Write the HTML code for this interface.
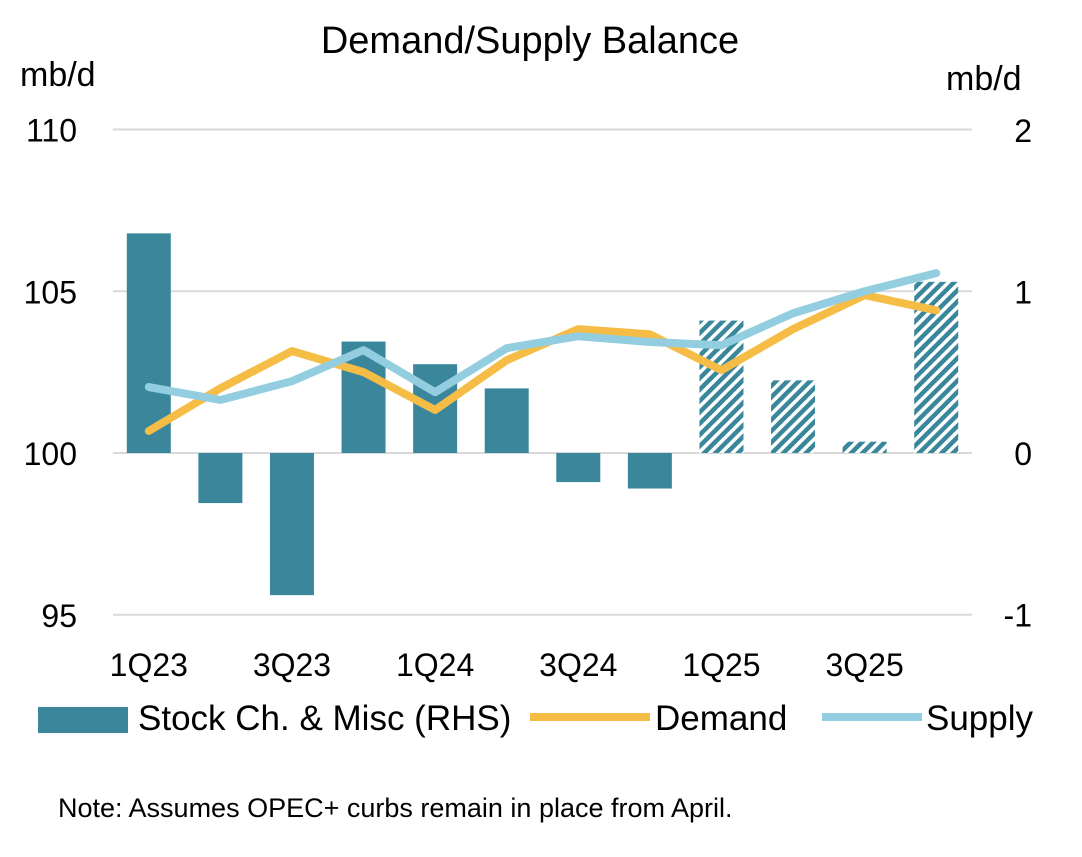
<!DOCTYPE html>
<html><head><meta charset="utf-8"><style>
body{margin:0;background:#fff;}
svg text{font-family:"Liberation Sans",sans-serif;fill:#000;}
</style></head><body>
<svg id="c" width="1082" height="852">
<defs><pattern id="hatch" patternUnits="userSpaceOnUse" width="8" height="8" patternTransform="rotate(-45)"><rect width="8" height="8" fill="#fff"/><rect width="8" height="4.5" fill="#3a879c"/></pattern></defs>
</svg>
<script>
const categories=["1Q23","2Q23","3Q23","4Q23","1Q24","2Q24","3Q24","4Q24","1Q25","2Q25","3Q25","4Q25"];
const stockChange=[1.36,-0.31,-0.88,0.69,0.55,0.40,-0.18,-0.22,0.82,0.45,0.07,1.06];
const forecast=[false,false,false,false,false,false,false,false,true,true,true,true];
const demand=[100.68,102.0,103.15,102.5,101.33,102.87,103.83,103.67,102.56,103.83,104.88,104.41];
const supply=[102.04,101.64,102.22,103.18,101.88,103.24,103.61,103.43,103.33,104.32,105.0,105.56];
const leftTicks=[95,100,105,110];
const rightTicks=[-1,0,1,2];
const xLabels=["1Q23","3Q23","1Q24","3Q24","1Q25","3Q25"];

const svg=document.getElementById('c');const NS='http://www.w3.org/2000/svg';
function mk(t,a,p){const e=document.createElementNS(NS,t);for(const k in a)e.setAttribute(k,a[k]);(p||svg).appendChild(e);return e;}
const X0=113,X1=972,step=(X1-X0)/categories.length;
const xc=i=>X0+step*(i+0.5);
const yL=v=>453-(v-100)*32.35;
const yR=v=>453-v*161.5;
leftTicks.forEach(t=>{
 const g=mk('line',{x1:X0,x2:X1,y1:yL(t),y2:yL(t),stroke:'#d9d9d9','stroke-width':2});
 
 
 const tx=mk('text',{x:77,y:yL(t)+12,'font-size':32,'text-anchor':'end'});tx.textContent=t;
 
 
});
rightTicks.forEach(t=>{
 const tx=mk('text',{x:1032,y:yR(t)+12,'font-size':32,'text-anchor':'end'});tx.textContent=t;
 
 
});
stockChange.forEach((v,i)=>{
 const y=Math.min(yR(v),yR(0)),h=Math.abs(yR(v)-yR(0));
 const r=mk('rect',{x:xc(i)-22,y:y,width:44,height:h,fill:forecast[i]?'url(#hatch)':'#3a879c'});
 
 
});
function line(arr,col,name){
 const p=mk('polyline',{points:arr.map((v,i)=>xc(i)+','+yL(v)).join(' '),fill:'none',stroke:col,'stroke-width':8,'stroke-linejoin':'round','stroke-linecap':'round'});
 
 
}
line(demand,'#f5bd45','demand-line');
line(supply,'#92cde0','supply-line');
xLabels.forEach(l=>{
 const i=categories.indexOf(l);
 const t=mk('text',{x:xc(i),y:676,'font-size':32,'text-anchor':'middle'});t.textContent=l;
 
 
});
</script>
<div style="position:absolute;left:0;top:0;width:1082px;height:852px;font-family:'Liberation Sans',sans-serif;pointer-events:none;white-space:nowrap">
<div style="position:absolute;left:0;width:1060px;top:20px;text-align:center;font-size:38px">Demand/Supply Balance</div>
<div style="position:absolute;left:20px;top:56px;font-size:34px">mb/d</div>
<div style="position:absolute;left:946px;top:60px;font-size:34px">mb/d</div>
<div style="position:absolute;left:38px;top:699px;font-size:35px"><span style="display:inline-block;width:90px;height:26px;background:#3a879c;vertical-align:-3px;margin-right:10px"></span>Stock Ch. &amp; Misc (RHS)</div>
<div style="position:absolute;left:530px;top:699px;font-size:35px"><span style="display:inline-block;width:120px;height:8px;background:#f5bd45;vertical-align:9px;margin-right:5px"></span>Demand</div>
<div style="position:absolute;left:822px;top:699px;font-size:35px"><span style="display:inline-block;width:100px;height:8px;background:#92cde0;vertical-align:9px;margin-right:4px"></span>Supply</div>
<div style="position:absolute;left:58px;top:793px;font-size:27px">Note: Assumes OPEC+ curbs remain in place from April.</div>
</div>
</body></html>
